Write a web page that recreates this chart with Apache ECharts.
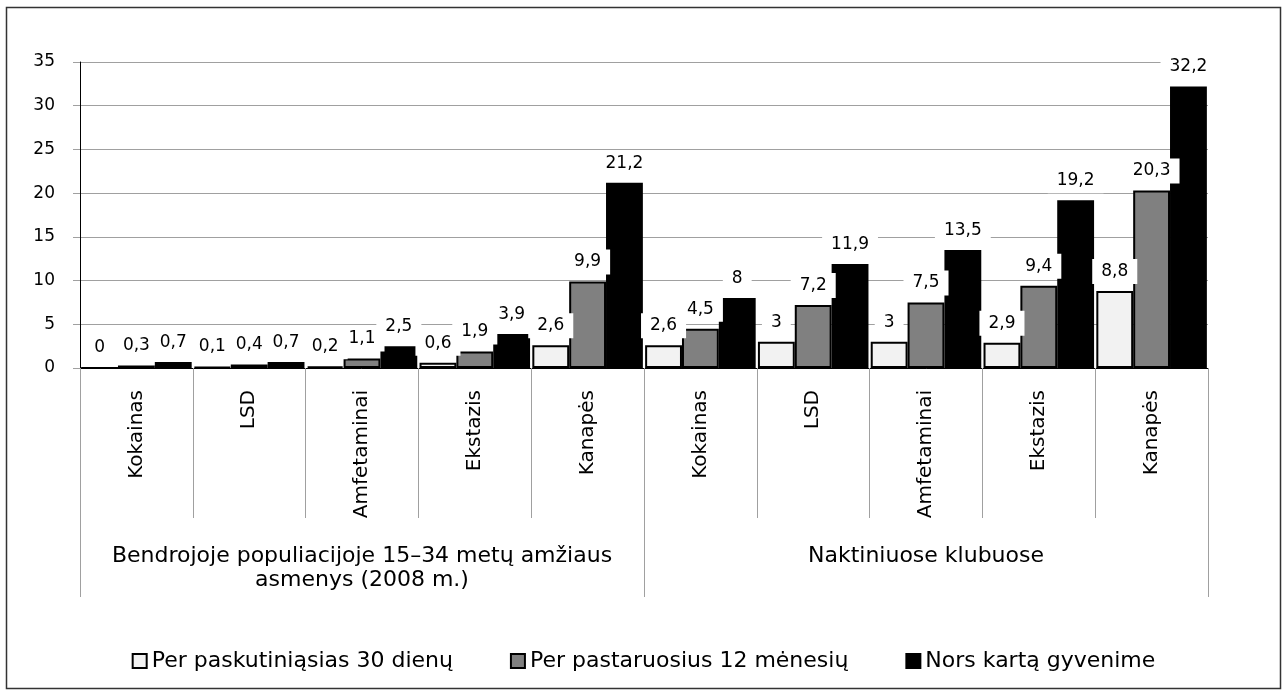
<!DOCTYPE html>
<html>
<head>
<meta charset="utf-8">
<title>Narkotikų vartojimas</title>
<script src="https://cdn.jsdelivr.net/npm/echarts@6/dist/echarts.min.js"></script>
<style>
    html, body { margin: 0; padding: 0; background: #fff; }
    #chart { width: 1287px; height: 695px; }
</style>
</head>
<body>
<div id="chart"></div>
<script>
    // kategorijos
    var drugs = ['Kokainas', 'LSD', 'Amfetaminai', 'Ekstazis', 'Kanapės',
                 'Kokainas', 'LSD', 'Amfetaminai', 'Ekstazis', 'Kanapės'];
    var groups = ['Bendrojoje populiacijoje 15–34 metų amžiaus\nasmenys (2008 m.)', 'Naktiniuose klubuose'];
    var seriesNames = ['Per paskutiniąsias 30 dienų', 'Per pastaruosius 12 mėnesių', 'Nors kartą gyvenime'];
    // reikšmės
    var last30 = [0, 0.1, 0.2, 0.6, 2.6, 2.6, 3, 3, 2.9, 8.8];
    var last12 = [0.3, 0.4, 1.1, 1.9, 9.9, 4.5, 7.2, 7.5, 9.4, 20.3];
    var lifetime = [0.7, 0.7, 2.5, 3.9, 21.2, 8, 11.9, 13.5, 19.2, 32.2];
    var yTicks = [0, 5, 10, 15, 20, 25, 30, 35];

    var font = 'DejaVu Sans';
    var colors = ['#f2f2f2', '#808080', '#000000'];

    function makeSeries(name, data, color) {
        return {
            name: name,
            type: 'bar',
            data: data,
            barGap: '0%',
            barCategoryGap: '2%',
            itemStyle: { color: color, borderColor: '#000', borderWidth: 2 },
            label: {
                show: true,
                position: 'top',
                distance: 7,
                padding: [4, 9],
                backgroundColor: '#fff',
                color: '#000',
                fontSize: 17,
                fontFamily: font,
                formatter: function (p) { return String(p.value).replace('.', ','); }
            }
        };
    }

    var chart = echarts.init(document.getElementById('chart'));
    var option = {
        animation: false,
        backgroundColor: '#fff',
        textStyle: { fontFamily: font },
        graphic: [{
            type: 'rect',
            shape: { x: 6.5, y: 7.5, width: 1274, height: 681 },
            style: { fill: 'none', stroke: '#333', lineWidth: 1.5 },
            silent: true
        }],
        grid: { left: 80, right: 79, top: 62, bottom: 327 },
        legend: {
            bottom: 18,
            left: 'center',
            icon: 'rect',
            itemWidth: 14,
            itemHeight: 14,
            itemGap: 57,
            data: seriesNames,
            textStyle: { fontSize: 22, color: '#000', fontFamily: font }
        },
        xAxis: [{
            type: 'category',
            data: drugs,
            position: 'bottom',
            offset: 0,
            axisLine: { show: true, lineStyle: { color: '#000', width: 1 } },
            axisTick: { show: true, length: 150, interval: 0, lineStyle: { color: '#a0a0a0' } },
            axisLabel: { interval: 0, rotate: 90, margin: 22, fontSize: 20, color: '#000', fontFamily: font }
        }, {
            type: 'category',
            data: groups,
            position: 'bottom',
            offset: 0,
            axisLine: { show: false },
            axisTick: { show: true, length: 229, interval: 0, lineStyle: { color: '#a0a0a0' } },
            axisLabel: { interval: 0, margin: 176, fontSize: 22, lineHeight: 24, color: '#000', fontFamily: font }
        }],
        yAxis: {
            type: 'value',
            min: yTicks[0],
            max: yTicks[yTicks.length - 1],
            interval: 5,
            axisLine: { show: true, lineStyle: { color: '#000', width: 1 } },
            axisTick: { show: true, length: 7, lineStyle: { color: '#a0a0a0' } },
            axisLabel: { margin: 25, fontSize: 17, color: '#000', fontFamily: font },
            splitLine: { show: true, lineStyle: { color: '#a0a0a0', width: 1 } }
        },
        series: [
            makeSeries(seriesNames[0], last30, colors[0]),
            makeSeries(seriesNames[1], last12, colors[1]),
            makeSeries(seriesNames[2], lifetime, colors[2])
        ]
    };
    chart.setOption(option);
</script>
</body>
</html>
